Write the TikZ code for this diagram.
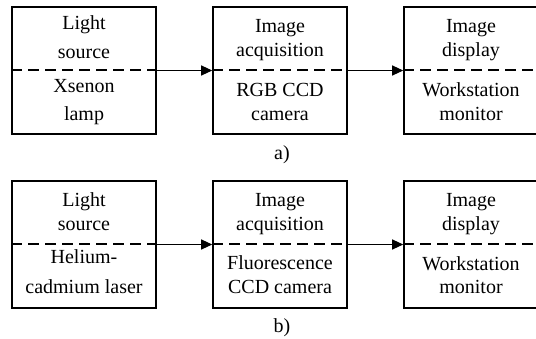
\documentclass[tikz,border=0pt]{standalone}
\usepackage{fontspec}
\setmainfont{Liberation Serif}
\usetikzlibrary{arrows.meta}
\begin{document}
\begin{tikzpicture}[x=1pt,y=-1pt,
  blk/.style={draw,line width=1.6pt,minimum width=#1,minimum height=127pt,inner sep=0pt},
  sep/.style={line width=2pt,dash pattern=on 11pt off 6pt},
  conn/.style={line width=1.2pt,-{Triangle[length=11pt,width=10pt]}},
  txt/.style={anchor=base,inner sep=0pt,font=\fontsize{20}{24}\selectfont},
  lbl/.style={anchor=base,inner sep=0pt,font=\fontsize{20}{24}\selectfont}]
\useasboundingbox (0,0) rectangle (536,339);
\clip (0,0) rectangle (536,339);
% row a
\node[blk=144pt] (a1) at (84,70.5) {};
\node[blk=134pt] (a2) at (280,70.5) {};
\node[blk=134pt] (a3) at (471,70.5) {};
\draw[sep] (a1.west) -- (a1.east);
\draw[sep] (a2.west) -- (a2.east);
\draw[sep] (a3.west) -- (a3.east);
\draw[conn] (a1.east) -- (a2.west);
\draw[conn] (a2.east) -- (a3.west);
\node[txt] (a1t1) at (84,30) {Light};
\node[txt] (a1t2) at (84,59) {source};
\node[txt] (a1t3) at (84,93) {Xsenon};
\node[txt] (a1t4) at (84,121) {lamp};
\node[txt] (a2t1) at (280,33) {Image};
\node[txt] (a2t2) at (280,57) {acquisition};
\node[txt] (a2t3) at (280,97) {RGB CCD};
\node[txt] (a2t4) at (280,121) {camera};
\node[txt] (a3t1) at (471,33) {Image};
\node[txt] (a3t2) at (471,57) {display};
\node[txt] (a3t3) at (471,97) {Workstation};
\node[txt] (a3t4) at (471,121) {monitor};
\node[lbl] (la) at (282,160) {a)};
% row b
\node[blk=144pt] (b1) at (84,244.5) {};
\node[blk=134pt] (b2) at (280,244.5) {};
\node[blk=134pt] (b3) at (471,244.5) {};
\draw[sep] (b1.west) -- (b1.east);
\draw[sep] (b2.west) -- (b2.east);
\draw[sep] (b3.west) -- (b3.east);
\draw[conn] (b1.east) -- (b2.west);
\draw[conn] (b2.east) -- (b3.west);
\node[txt] (b1t1) at (84,207) {Light};
\node[txt] (b1t2) at (84,231) {source};
\node[txt] (b1t3) at (84,264) {Helium-};
\node[txt] (b1t4) at (84,294) {cadmium laser};
\node[txt] (b2t1) at (280,207) {Image};
\node[txt] (b2t2) at (280,231) {acquisition};
\node[txt] (b2t3) at (280,270) {Fluorescence};
\node[txt] (b2t4) at (280,294) {CCD camera};
\node[txt] (b3t1) at (471,207) {Image};
\node[txt] (b3t2) at (471,231) {display};
\node[txt] (b3t3) at (471,271) {Workstation};
\node[txt] (b3t4) at (471,294) {monitor};
\node[lbl] (lb) at (282,333) {b)};
\end{tikzpicture}
\end{document}
